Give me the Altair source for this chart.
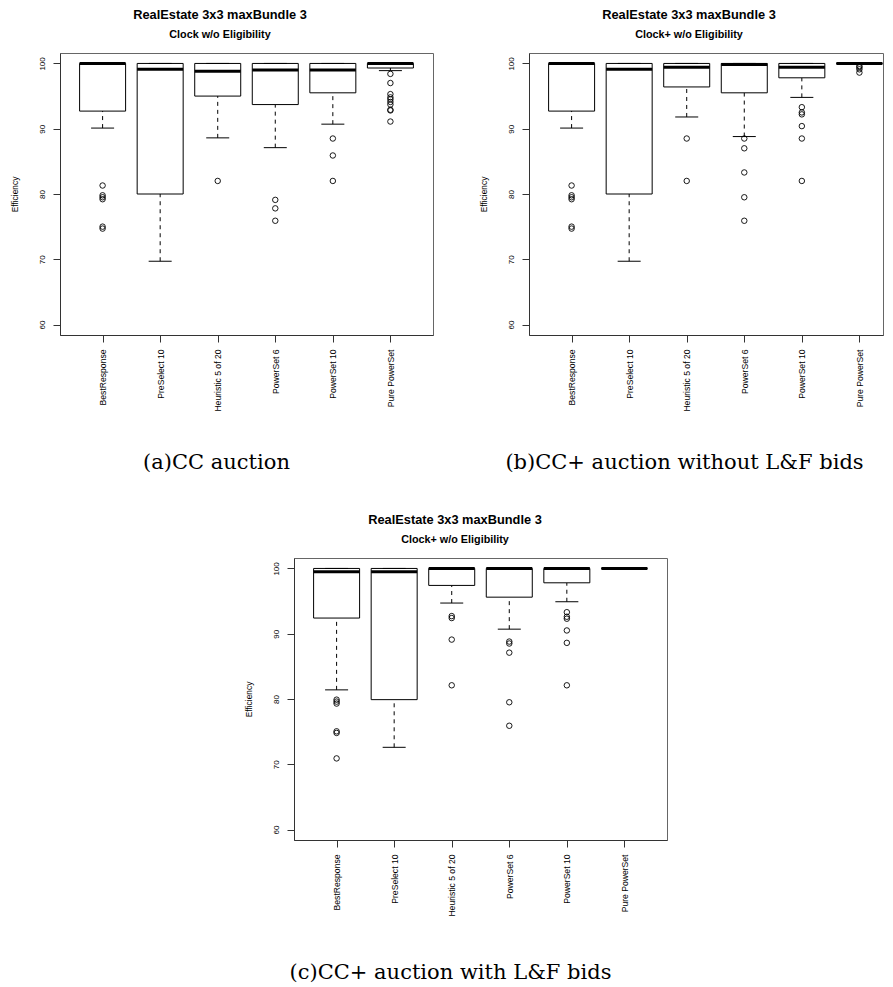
import altair as alt
import pandas as pd

categories = ["BestResponse", "PreSelect 10", "Heuristic 5 of 20",
              "PowerSet 6", "PowerSet 10", "Pure PowerSet"]

# ---- panel (a): Clock w/o Eligibility
a_lower = [90.1, 69.7, 88.6, 87.1, 90.7, 98.9]
a_q1 = [92.7, 80.0, 95.0, 93.7, 95.5, 99.3]
a_med = [100.0, 99.1, 98.8, 99.0, 99.0, 100.0]
a_q3 = [100.0, 100.0, 100.0, 100.0, 100.0, 100.0]
a_upper = [100.0, 100.0, 100.0, 100.0, 100.0, 100.0]
a_out = [
    [81.3, 79.8, 79.5, 79.2, 75.0, 74.7],
    [],
    [82.0],
    [79.1, 77.8, 75.9],
    [88.5, 85.9, 82.0],
    [98.4, 97.0, 95.3, 94.8, 94.5, 94.1, 93.7, 92.9, 92.8, 91.1],
]

# ---- panel (b): Clock+ w/o Eligibility (without L&F bids)
b_lower = [90.1, 69.7, 91.8, 88.8, 94.8, 100.0]
b_q1 = [92.7, 80.0, 96.4, 95.5, 97.8, 100.0]
b_med = [100.0, 99.1, 99.4, 99.85, 99.4, 100.0]
b_q3 = [100.0, 100.0, 100.0, 100.0, 100.0, 100.0]
b_upper = [100.0, 100.0, 100.0, 100.0, 100.0, 100.0]
b_out = [
    [81.3, 79.8, 79.5, 79.2, 75.0, 74.7],
    [],
    [88.5, 82.0],
    [88.5, 87.0, 83.3, 79.5, 75.9],
    [93.3, 92.5, 92.2, 90.4, 88.5, 82.0],
    [99.6, 99.4, 99.1, 98.6],
]

# ---- panel (c): Clock+ w/o Eligibility (with L&F bids)
c_lower = [81.4, 72.6, 94.7, 90.7, 94.9, 100.0]
c_q1 = [92.4, 79.9, 97.4, 95.6, 97.8, 100.0]
c_med = [99.5, 99.5, 100.0, 100.0, 100.0, 100.0]
c_q3 = [100.0, 100.0, 100.0, 100.0, 100.0, 100.0]
c_upper = [100.0, 100.0, 100.0, 100.0, 100.0, 100.0]
c_out = [
    [79.9, 79.6, 79.3, 75.05, 74.8, 70.9],
    [],
    [92.7, 92.4, 89.1, 82.1],
    [88.8, 88.5, 87.1, 79.5, 75.9],
    [93.3, 92.6, 92.3, 90.5, 88.6, 82.1],
    [],
]

y_ticks = [60, 70, 80, 90, 100]
y_domain = [58.4, 101.6]

SANS = "Liberation Sans"
PLOT_H = 282
FRAME = "#666"


def panel(lower, q1, med, q3, upper, outliers, title, subtitle, caption,
          width, x_padding, x_align, title_dx, cap_x, cap_y):
    box_df = pd.DataFrame({"cat": categories, "lower": lower, "q1": q1,
                           "med": med, "q3": q3, "upper": upper})
    rows = [(c, v) for c, vals in zip(categories, outliers) for v in vals]
    out_df = pd.DataFrame(rows, columns=["cat", "val"])

    xaxis = alt.Axis(
        title=caption, titleFont="DejaVu Serif", titleFontSize=21,
        titleFontWeight="normal", titleColor="black", titleX=cap_x,
        titleY=cap_y, titleBaseline="alphabetic", titleAlign="center",
        labelAngle=270, labelAlign="right", labelBaseline="middle",
        labelPadding=7, labelFontSize=8.6, labelFont=SANS,
        labelColor="black", labelOverlap=False, tickSize=7,
        tickColor="#333", domainColor="#333", grid=False)
    yaxis = alt.Axis(
        values=y_ticks, title="Efficiency", titleFont=SANS,
        titleFontSize=8.4, titleFontWeight="normal", titleColor="black",
        titleAngle=270, titleBaseline="alphabetic", titleAlign="center",
        titleX=-42.5, titleY=PLOT_H / 2, labelAngle=270,
        labelAlign="center", labelBaseline="alphabetic", labelPadding=8.7,
        labelFontSize=8, labelFont=SANS, labelColor="black",
        labelOverlap=False, tickSize=7, tickColor="#333",
        domainColor="#333", grid=False)
    xscale = alt.Scale(type="point", domain=categories, padding=x_padding,
                       align=x_align, round=False)
    yscale = alt.Scale(domain=y_domain, nice=False, zero=False)

    X = alt.X("cat:N", scale=xscale, axis=xaxis, sort=categories)

    def Y(f):
        return alt.Y(f + ":Q", scale=yscale, axis=yaxis)

    base = alt.Chart(box_df)
    lo_wh = base.mark_rule(color="black", strokeWidth=1,
                           strokeDash=[4, 4]).encode(x=X, y=Y("lower"), y2="q1")
    hi_wh = base.mark_rule(color="black", strokeWidth=1,
                           strokeDash=[4, 4]).encode(x=X, y=Y("q3"), y2="upper")
    box = base.mark_bar(size=46, fill="white", stroke="black",
                        strokeWidth=1).encode(x=X, y=Y("q1"), y2="q3")
    lo_cap = base.mark_tick(size=23, thickness=1, color="black",
                            opacity=1).encode(x=X, y=Y("lower"))
    hi_cap = base.mark_tick(size=23, thickness=1, color="black",
                            opacity=1).encode(x=X, y=Y("upper"))
    median = base.mark_tick(size=46, thickness=3, color="black",
                            opacity=1).encode(x=X, y=Y("med"))
    pts = alt.Chart(out_df).mark_point(
        shape="circle", size=30, filled=False, color="black",
        strokeWidth=0.9, opacity=1).encode(x=X, y=Y("val"))

    ttl = alt.TitleParams(
        text=title, subtitle=subtitle, font=SANS, fontSize=12.8,
        fontWeight="bold", color="black", subtitleFont=SANS,
        subtitleFontSize=10.8, subtitleFontWeight="bold",
        subtitleColor="black", anchor="middle", frame="group",
        dx=title_dx, offset=13, subtitlePadding=7)

    return alt.layer(lo_wh, hi_wh, box, lo_cap, hi_cap, median, pts).properties(
        width=width, height=PLOT_H, title=ttl)


pa = panel(a_lower, a_q1, a_med, a_q3, a_upper, a_out,
           "RealEstate 3x3 maxBundle 3", "Clock w/o Eligibility",
           "(a)CC auction", 373, 0.74, 0.5, -26.5, 156, 133)
pb = panel(b_lower, b_q1, b_med, b_q3, b_upper, b_out,
           "RealEstate 3x3 maxBundle 3", "Clock+ w/o Eligibility",
           "(b)CC+ auction without L&F bids", 354, 0.575, 0.6435, -17, 155, 133)
pc = panel(c_lower, c_q1, c_med, c_q3, c_upper, c_out,
           "RealEstate 3x3 maxBundle 3", "Clock+ w/o Eligibility",
           "(c)CC+ auction with L&F bids", 373, 0.74, 0.5, -25.5, 156, 138)

spacer = alt.Chart(pd.DataFrame({"v": [0]})).mark_point(opacity=0).properties(
    width=224, height=1, view=alt.ViewBackground(strokeOpacity=0))

top = alt.hconcat(pa, pb, spacing=96, bounds="flush")
bottom = alt.hconcat(spacer, pc, spacing=10, bounds="flush")

chart = alt.vconcat(top, bottom, spacing=505, bounds="flush").properties(
    padding={"left": 2, "top": 0, "right": 0, "bottom": 0}
).configure_view(stroke=FRAME, strokeWidth=1)

chart.save("out.html", embed_options={"renderer": "svg", "actions": False})
